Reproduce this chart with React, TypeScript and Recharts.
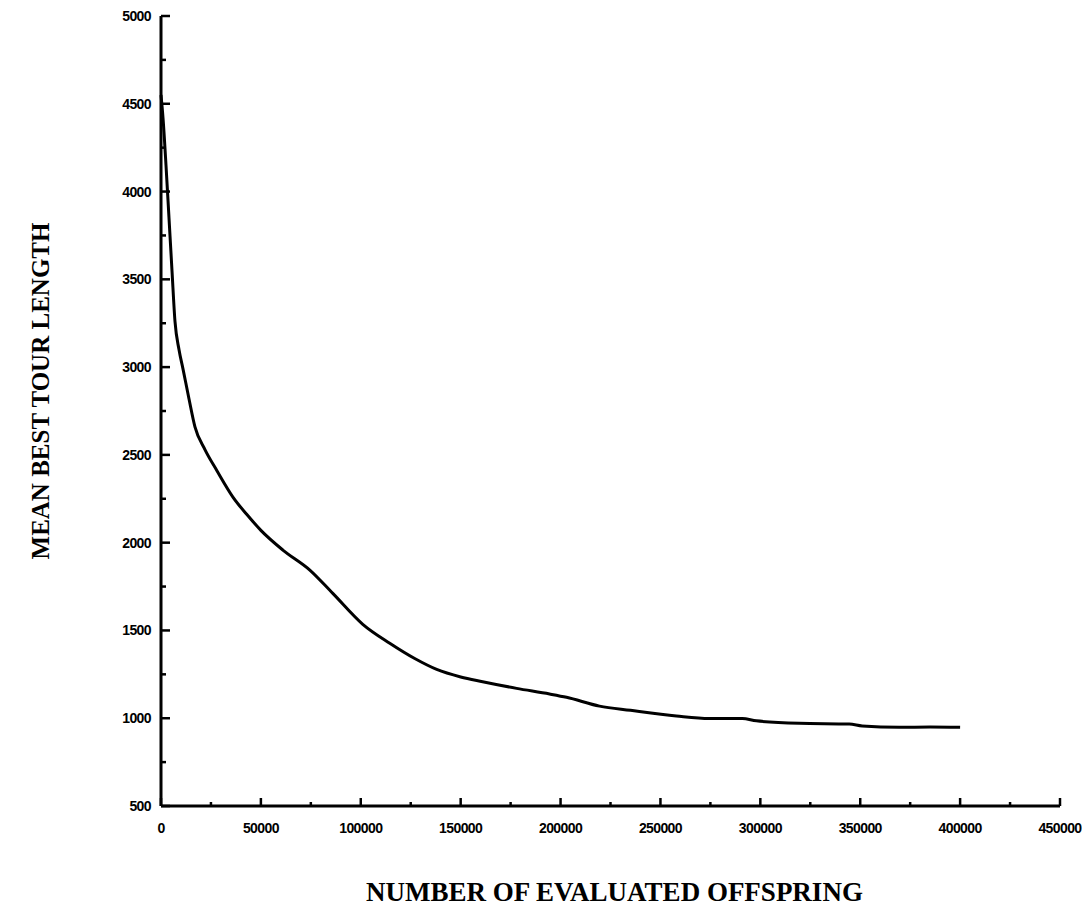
import { LineChart, Line, XAxis, YAxis, Label } from 'recharts';

// evaluated offspring (x) and mean best tour length (y)
const offspring = [
  0, 1000, 2500, 4000, 5500, 7000, 9000, 11000, 14000, 17000, 22000, 28000, 36000,
  43000, 50000, 61000, 74500, 86000, 101000, 114500, 127000, 138000, 150000, 161000,
  178000, 194500, 203000, 219500, 235000, 258000, 274500, 291000, 298000, 319500,
  344500, 351000, 369500, 385000, 400000,
];
const tourLength = [
  4550, 4420, 4150, 3850, 3550, 3260, 3100, 2990, 2820, 2660, 2530, 2410, 2260,
  2160, 2070, 1958, 1844, 1711, 1535, 1427, 1340, 1278, 1235, 1208,
  1170, 1138, 1119, 1069, 1045, 1013, 999, 999, 985, 971,
  967, 956, 948, 950, 948,
];

// major ticks carry labels, the ones between are short unlabeled marks
const xTicks = [
  0, 25000, 50000, 75000, 100000, 125000, 150000, 175000, 200000, 225000,
  250000, 275000, 300000, 325000, 350000, 375000, 400000, 425000, 450000,
];
const xLabeled = [0, 50000, 100000, 150000, 200000, 250000, 300000, 350000, 400000, 450000];
const yTicks = [
  500, 750, 1000, 1250, 1500, 1750, 2000, 2250, 2500, 2750, 3000, 3250, 3500,
  3750, 4000, 4250, 4500, 4750, 5000,
];
const yLabeled = [500, 1000, 1500, 2000, 2500, 3000, 3500, 4000, 4500, 5000];

const data = offspring.map((x, i) => ({ x, y: tourLength[i] }));

const tickFont = "'Liberation Sans', Arial, sans-serif";
const titleFont = "'Liberation Serif', 'DejaVu Serif', serif";

function XTick(props: any) {
  const { x, y, payload } = props;
  const major = xLabeled.includes(payload.value);
  return (
    <g>
      <line x1={x} y1={y} x2={x} y2={y - (major ? 8 : 4)} stroke="#000" strokeWidth={2.5} />
      {major && (
        <text x={x} y={y + 27} textAnchor="middle" fontFamily={tickFont} fontWeight="bold" fontSize={14} letterSpacing={-0.6} fill="#000">
          {payload.value}
        </text>
      )}
    </g>
  );
}

function YTick(props: any) {
  const { x, y, payload } = props;
  const major = yLabeled.includes(payload.value);
  return (
    <g>
      <line x1={x} y1={y} x2={x + (major ? 9 : 5)} y2={y} stroke="#000" strokeWidth={2.5} />
      {major && (
        <text x={x - 10} y={y + 5} textAnchor="end" fontFamily={tickFont} fontWeight="bold" fontSize={14} letterSpacing={-0.6} fill="#000">
          {payload.value}
        </text>
      )}
    </g>
  );
}

export default function App() {
  return (
    <div style={{ width: 1082, height: 903, background: '#fff' }}>
      <LineChart
        width={1082}
        height={903}
        data={data}
        margin={{ top: 8, right: 30, left: 0, bottom: 0 }}
        style={{ overflow: 'visible' }}
      >
        <XAxis
          dataKey="x"
          type="number"
          domain={[0, 450000]}
          ticks={xTicks}
          interval={0}
          height={105}
          tickSize={0}
          tickMargin={0}
          tick={<XTick />}
          axisLine={{ stroke: '#000', strokeWidth: 3 }}
          tickLine={false}
        >
          <Label
            content={({ viewBox }: any) => (
              <text
                x={viewBox.x + viewBox.width / 2 + 4}
                y={viewBox.y + 95}
                textAnchor="middle"
                fontFamily={titleFont}
                fontWeight="bold"
                fontSize={27}
                fill="#000"
              >
                NUMBER OF EVALUATED OFFSPRING
              </text>
            )}
          />
        </XAxis>
        <YAxis
          type="number"
          domain={[500, 5000]}
          ticks={yTicks}
          interval={0}
          width={153}
          tickSize={0}
          tickMargin={0}
          tick={<YTick />}
          axisLine={{ stroke: '#000', strokeWidth: 3 }}
          tickLine={false}
        >
          <Label
            content={({ viewBox }: any) => {
              const cx = 32;
              const cy = viewBox.y + viewBox.height / 2 - 20;
              return (
                <text
                  x={cx}
                  y={cy}
                  transform={`rotate(-90 ${cx} ${cy})`}
                  textAnchor="middle"
                  dominantBaseline="central"
                  fontFamily={titleFont}
                  fontWeight="bold"
                  fontSize={25}
                  fill="#000"
                >
                  MEAN BEST TOUR LENGTH
                </text>
              );
            }}
          />
        </YAxis>
        <Line
          type="monotone"
          dataKey="y"
          stroke="#000"
          strokeWidth={3}
          dot={false}
          isAnimationActive={false}
        />
      </LineChart>
    </div>
  );
}
